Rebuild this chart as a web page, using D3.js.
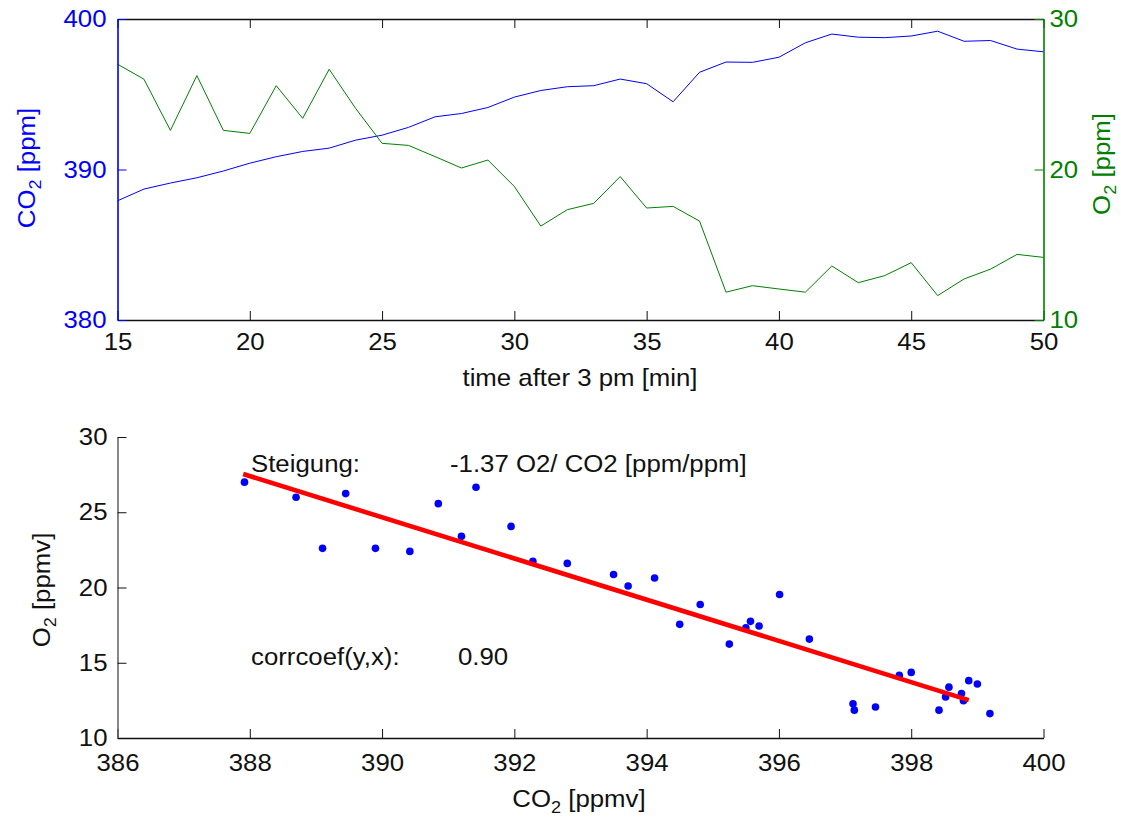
<!DOCTYPE html>
<html>
<head>
<meta charset="utf-8">
<script src="https://cdn.jsdelivr.net/npm/d3@7"></script>
<style>
    body { margin: 0; background: #fff; }
    svg { display: block; }
    text { font-family: "Liberation Sans", Arial, sans-serif; }
</style>
</head>
<body>
<div class="draw-area"></div>
<script>
// ===================================================
// DATA
// ---------------------------------------------------
// One reading per minute after 3 pm. The scatter plot
// uses the same readings (CO2 on x, O2 on y).
// ===================================================
const minutes = [15, 16, 17, 18, 19, 20, 21, 22, 23, 24, 25, 26, 27, 28, 29, 30, 31, 32,
                 33, 34, 35, 36, 37, 38, 39, 40, 41, 42, 43, 44, 45, 46, 47, 48, 49, 50];

const co2 = [387.92, 388.70, 389.10, 389.45, 389.90, 390.42, 390.85, 391.20, 391.42, 391.95,
             392.28, 392.80, 393.50, 393.72, 394.12, 394.81, 395.25, 395.50, 395.57, 396.01,
             395.70, 394.50, 396.46, 397.14, 397.12, 397.46, 398.42, 399.00, 398.79, 398.76,
             398.87, 399.19, 398.52, 398.57, 398.00, 397.82];

const o2 = [27.00, 26.00, 22.60, 26.24, 22.60, 22.40, 25.57, 23.40, 26.66, 24.06,
            21.74, 21.60, 20.86, 20.10, 20.63, 18.87, 16.24, 17.33, 17.75, 19.53,
            17.44, 17.55, 16.57, 11.85, 12.28, 12.06, 11.85, 13.59, 12.48, 12.95,
            13.81, 11.62, 12.73, 13.38, 14.36, 14.16];

// Fitted line end points (CO2, O2)
const fitLine = [[387.9, 27.54], [398.87, 12.52]];

const timeTicks = [15, 20, 25, 30, 35, 40, 45, 50];
const co2Ticks = [380, 390, 400];
const o2Ticks = [10, 20, 30];
const scatterXTicks = [386, 388, 390, 392, 394, 396, 398, 400];
const scatterYTicks = [10, 15, 20, 25, 30];

const slopeText = "-1.37 O2/ CO2 [ppm/ppm]";
const corrText = "0.90";

// ===================================================
// CANVAS
// ===================================================
const width = 1121, height = 818;
const FONT = 24;       // label font size
const SX = 1.075;      // the reference text is a bit wide
const BLUE = "#0000ff", GREEN = "#008000", INK = "#111";

const svg = d3.select(".draw-area")
    .append("svg")
    .attr("width", width)
    .attr("height", height);

// Stretch tick labels horizontally, keeping their position
function stretchTicks(g, color) {
    g.selectAll(".tick text")
        .attr("fill", color)
        .attr("font-size", FONT)
        .each(function () {
            const t = d3.select(this);
            const x = +t.attr("x") || 0;
            const y = +t.attr("y") || 0;
            t.attr("x", 0).attr("y", 0)
             .attr("transform", `translate(${x},${y}) scale(${SX},1)`);
        });
}

// Axis label with a subscript 2 (e.g. CO₂ [ppm])
function subLabel(x, y, angle, head, tail, color) {
    const t = svg.append("text")
        .attr("transform", `translate(${x},${y}) rotate(${angle}) scale(${SX},1)`)
        .attr("text-anchor", "middle")
        .attr("font-size", FONT)
        .attr("fill", color);
    t.append("tspan").text(head);
    t.append("tspan").attr("font-size", FONT * 0.7).attr("dy", "0.35em").text("2");
    t.append("tspan").attr("dy", "-0.25em").text(" " + tail);
}

// ===================================================
// TOP PANEL: time series, two y axes
// ===================================================
const topBox = { left: 117.5, right: 1043.5, top: 19, bottom: 320 };

const xTime = d3.scaleLinear([15, 50], [topBox.left, topBox.right]);
const yCo2 = d3.scaleLinear([380, 400], [topBox.bottom, topBox.top]);
const yO2 = d3.scaleLinear([10, 30], [topBox.bottom, topBox.top]);

// Lines first, axes drawn over them
svg.append("path")
    .datum(co2)
    .attr("fill", "none")
    .attr("stroke", BLUE)
    .attr("stroke-width", 1)
    .attr("d", d3.line().x((d, i) => xTime(minutes[i])).y(d => yCo2(d)));

svg.append("path")
    .datum(o2)
    .attr("fill", "none")
    .attr("stroke", GREEN)
    .attr("stroke-width", 1)
    .attr("d", d3.line().x((d, i) => xTime(minutes[i])).y(d => yO2(d)));

// Bottom time axis (ticks inward)
const gTimeB = svg.append("g")
    .attr("transform", `translate(0,${topBox.bottom})`)
    .call(d3.axisBottom(xTime).tickValues(timeTicks).tickSizeInner(-9).tickSizeOuter(0).tickPadding(13));
gTimeB.select(".domain").attr("stroke", INK).attr("stroke-width", 1.6);
gTimeB.selectAll(".tick line").attr("stroke", INK);
stretchTicks(gTimeB, INK);

// Top border with ticks, no labels
const gTimeT = svg.append("g")
    .attr("transform", `translate(0,${topBox.top})`)
    .call(d3.axisTop(xTime).tickValues(timeTicks).tickSizeInner(-9).tickSizeOuter(0).tickFormat(""));
gTimeT.select(".domain").attr("stroke", INK).attr("stroke-width", 1.6);
gTimeT.selectAll(".tick line").attr("stroke", INK);

// Left CO2 axis, blue
const gCo2 = svg.append("g")
    .attr("transform", `translate(${topBox.left},0)`)
    .call(d3.axisLeft(yCo2).tickValues(co2Ticks).tickSizeInner(-9).tickSizeOuter(0).tickPadding(11));
gCo2.select(".domain").attr("stroke", BLUE).attr("stroke-width", 1.6);
gCo2.selectAll(".tick line").attr("stroke", BLUE);
stretchTicks(gCo2, BLUE);

// Right O2 axis, green
const gO2 = svg.append("g")
    .attr("transform", `translate(${topBox.right},0)`)
    .call(d3.axisRight(yO2).tickValues(o2Ticks).tickSizeInner(-9).tickSizeOuter(0).tickPadding(6));
gO2.select(".domain").attr("stroke", GREEN).attr("stroke-width", 1.6);
gO2.selectAll(".tick line").attr("stroke", GREEN);
stretchTicks(gO2, GREEN);

// Axis titles
svg.append("text")
    .attr("transform", `translate(580,386) scale(${SX},1)`)
    .attr("text-anchor", "middle")
    .attr("font-size", FONT)
    .attr("fill", INK)
    .text("time after 3 pm [min]");

subLabel(35, 168, -90, "CO", "[ppm]", BLUE);
subLabel(1110, 164, -90, "O", "[ppm]", GREEN);

// ===================================================
// BOTTOM PANEL: O2 vs CO2 scatter with fit
// ===================================================
const botBox = { left: 117.5, right: 1043.5, top: 437, bottom: 738 };

const xSc = d3.scaleLinear([386, 400], [botBox.left, botBox.right]);
const ySc = d3.scaleLinear([10, 30], [botBox.bottom, botBox.top]);

// Points
svg.append("g")
    .selectAll("circle")
    .data(co2)
    .join("circle")
    .attr("cx", d => xSc(d))
    .attr("cy", (d, i) => ySc(o2[i]))
    .attr("r", 3.8)
    .attr("fill", BLUE);

// Fit line
svg.append("path")
    .datum(fitLine)
    .attr("fill", "none")
    .attr("stroke", "#ff0000")
    .attr("stroke-width", 4.6)
    .attr("d", d3.line().x(d => xSc(d[0])).y(d => ySc(d[1])));

// Axes (no box)
const gScX = svg.append("g")
    .attr("transform", `translate(0,${botBox.bottom})`)
    .call(d3.axisBottom(xSc).tickValues(scatterXTicks).tickSizeInner(-9).tickSizeOuter(0).tickPadding(16));
gScX.select(".domain").attr("stroke", INK).attr("stroke-width", 1.6);
gScX.selectAll(".tick line").attr("stroke", INK);
stretchTicks(gScX, INK);

const gScY = svg.append("g")
    .attr("transform", `translate(${botBox.left},0)`)
    .call(d3.axisLeft(ySc).tickValues(scatterYTicks).tickSizeInner(-9).tickSizeOuter(0).tickPadding(10));
gScY.select(".domain").attr("stroke", "#555").attr("stroke-width", 1.4);
gScY.selectAll(".tick line").attr("stroke", INK);
stretchTicks(gScY, INK);

subLabel(579, 807, 0, "CO", "[ppmv]", INK);
subLabel(50, 590, -90, "O", "[ppmv]", INK);

// Annotations
const notes = [
    { x: 251, y: 472, s: "Steigung:" },
    { x: 450, y: 472, s: slopeText },
    { x: 251, y: 665, s: "corrcoef(y,x):" },
    { x: 458, y: 665, s: corrText }
];
svg.append("g")
    .selectAll("text")
    .data(notes)
    .join("text")
    .attr("transform", d => `translate(${d.x},${d.y}) scale(${SX},1)`)
    .attr("font-size", FONT)
    .attr("fill", INK)
    .text(d => d.s);
</script>
</body>
</html>
